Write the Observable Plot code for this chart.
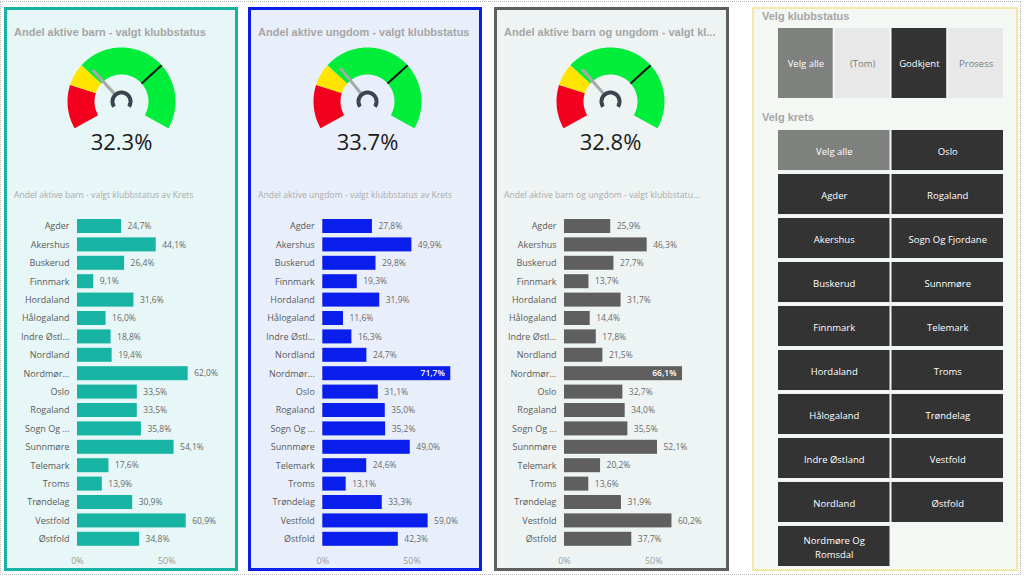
<!DOCTYPE html>
<html><head><meta charset="utf-8">
<script src="https://cdn.jsdelivr.net/npm/d3@7"></script>
<script src="https://cdn.jsdelivr.net/npm/@observablehq/plot@0.6"></script>
<style>
body{margin:0;background:#fff;font-family:"Open Sans",sans-serif;}
#root{position:relative;width:1024px;height:578px;overflow:hidden;background:#fff;}
.abs{position:absolute;}
.abs svg{display:block;}
.panel{position:absolute;box-sizing:border-box;}
.title{position:absolute;font-family:"Liberation Sans",Arial,sans-serif;font-weight:bold;font-size:11px;line-height:13px;color:#A6A6A6;white-space:nowrap;}
.sub{position:absolute;font-family:"Open Sans",sans-serif;font-size:8.6px;line-height:12px;color:#ABABAB;white-space:nowrap;}
</style></head><body><div id="root"></div>
<script>
// ---------- data ----------
const krets = ["Agder","Akershus","Buskerud","Finnmark","Hordaland","Hålogaland","Indre Østland","Nordland","Nordmøre Og Romsdal","Oslo","Rogaland","Sogn Og Fjordane","Sunnmøre","Telemark","Troms","Trøndelag","Vestfold","Østfold"];
const kretsTickLabels = ["Agder","Akershus","Buskerud","Finnmark","Hordaland","Hålogaland","Indre Østl...","Nordland","Nordmør...","Oslo","Rogaland","Sogn Og ...","Sunnmøre","Telemark","Troms","Trøndelag","Vestfold","Østfold"];
const andelBarn   = [24.7,44.1,26.4,9.1,31.6,16.0,18.8,19.4,62.0,33.5,33.5,35.8,54.1,17.6,13.9,30.9,60.9,34.8];
const andelUngdom = [27.8,49.9,29.8,19.3,31.9,11.6,16.3,24.7,71.7,31.1,35.0,35.2,49.0,24.6,13.1,33.3,59.0,42.3];
const andelBegge  = [25.9,46.3,27.7,13.7,31.7,14.4,17.8,21.5,66.1,32.7,34.0,35.5,52.1,20.2,13.6,31.9,60.2,37.7];
const xTicks = [0, 50];
const gaugeValues = [32.3, 33.7, 32.8];
const gaugeTarget = 70;
const gaugeBandStart = [0, 20, 30];
const gaugeBandEnd = [20, 30, 100];
const gaugeBandColor = ["#F2001E", "#FFE500", "#00EE3A"];
const titles = ["Andel aktive barn - valgt klubbstatus","Andel aktive ungdom - valgt klubbstatus","Andel aktive barn og ungdom - valgt kl..."];
const subtitles = ["Andel aktive barn - valgt klubbstatus av Krets","Andel aktive ungdom - valgt klubbstatus av Krets","Andel aktive barn og ungdom - valgt klubbstatu..."];
const klubbstatusOptions = ["Velg alle","(Tom)","Godkjent","Prosess"];
const klubbstatusState = ["all","off","on","off"];
const kretsSlicer = ["Velg alle","Oslo","Agder","Rogaland","Akershus","Sogn Og Fjordane","Buskerud","Sunnmøre","Finnmark","Telemark","Hordaland","Troms","Hålogaland","Trøndelag","Indre Østland","Vestfold","Nordland","Østfold","Nordmøre Og Romsdal"];
const kretsSlicerState = ["all"].concat(Array(18).fill("on"));

// ---------- layout / styles ----------
const root = document.getElementById("root");
function div(cls, css, text){const d=document.createElement("div");d.className=cls;Object.assign(d.style,css);if(text!=null)d.textContent=text;root.appendChild(d);return d;}
div("abs",{left:"0px",top:"1px",width:"1021px",height:"574px",border:"1px dotted #b8b8b8",boxSizing:"border-box"});

const panels = [
  {left:4,   width:234, border:"#17B3A3", bg:"#E7F6F6", bar:"#17B3A3", values:andelBarn,   cx:121,   ml:77,   svgLeft:0},
  {left:248, width:234, border:"#0A1EEB", bg:"#E9EFFA", bar:"#0A1EEB", values:andelUngdom, cx:367,   ml:77.3, svgLeft:245},
  {left:494, width:235, border:"#5E5E5E", bg:"#EEF4F4", bar:"#5F5F5F", values:andelBegge,  cx:609.5, ml:74,   svgLeft:490}
];
const pxPerPct = 1.785, xMax = 80, chartW = 240;
const fmt = v => v.toFixed(1).replace(".", ",") + "%";
const toXY = (pct, r) => { const a = (-120 + pct * 2.4) * Math.PI / 180; return [r * Math.sin(a), r * Math.cos(a)]; };

panels.forEach((p, i) => {
  div("panel",{left:p.left+"px",top:"7px",width:p.width+"px",height:"564px",border:"3px solid "+p.border,background:p.bg});
  div("title",{left:(p.left+10)+"px",top:"26px"}, titles[i]);
  div("sub",{left:(p.left+10)+"px",top:"189px"}, subtitles[i]);

  // gauge
  const arcPts = [];
  gaugeBandStart.forEach((s, b) => {
    for (let q = s; q <= gaugeBandEnd[b] + 1e-9; q += 0.5) { const [x, y] = toXY(q, 40.5); arcPts.push({band:b, x, y, color:gaugeBandColor[b]}); }
  });
  const capPts = d3.range(-125, 126, 5).map(a => ({x: 9 * Math.sin(a * Math.PI / 180), y: 9 * Math.cos(a * Math.PI / 180)}));
  const v = gaugeValues[i];
  const g = Plot.plot({
    width:120, height:115, margin:0,
    x:{domain:[-60,60], axis:null}, y:{domain:[-59,56], axis:null},
    color:{type:"identity"},
    style:{background:"transparent", fontFamily:"'Open Sans',sans-serif", overflow:"visible"},
    marks:[
      Plot.line(arcPts, {x:"x", y:"y", z:"band", stroke:"color", strokeWidth:27, strokeLinecap:"butt", strokeLinejoin:"round"}),
      Plot.link([gaugeTarget], {x1:d=>toXY(d,27)[0], y1:d=>toXY(d,27)[1], x2:d=>toXY(d,54)[0], y2:d=>toXY(d,54)[1], stroke:"#111", strokeWidth:2}),
      Plot.link([v], {x1:d=>toXY(d,11)[0], y1:d=>toXY(d,11)[1], x2:d=>toXY(d,43)[0], y2:d=>toXY(d,43)[1], stroke:"#A8A8A8", strokeWidth:3}),
      Plot.line(capPts, {x:"x", y:"y", stroke:"#3A444E", strokeWidth:4, strokeLinecap:"butt"}),
      Plot.text([v], {x:()=>0, y:()=>-41, text:d=>d.toFixed(1)+"%", fontSize:22, fill:"#1a1a1a"})
    ]
  });
  div("abs",{left:(p.cx-60)+"px",top:"45px"}).appendChild(g);

  // bar chart
  const data = krets.map((k, j) => ({krets:k, v:p.values[j]}));
  const bars = Plot.plot({
    width:chartW, height:362, marginLeft:p.ml, marginRight:chartW - p.ml - xMax*pxPerPct, marginTop:6.8, marginBottom:24,
    x:{domain:[0,xMax]},
    y:{domain:krets, paddingInner:0.24, paddingOuter:0.12, round:false},
    style:{background:"transparent", fontFamily:"'Open Sans',sans-serif", fontSize:"9px"},
    marks:[
      Plot.axisX({ticks:xTicks, tickFormat:d=>d+"%", tickSize:0, tickPadding:9, fill:"#9A9A9A", fontSize:9, label:null}),
      Plot.axisY({tickSize:0, tickPadding:8, tickFormat:d=>kretsTickLabels[krets.indexOf(d)], fill:"#5A5A5A", fontSize:9, label:null}),
      Plot.barX(data, {x:"v", y:"krets", fill:p.bar}),
      Plot.text(data.filter(d=>d.v<65), {x:"v", y:"krets", text:d=>fmt(d.v), dx:6, textAnchor:"start", fill:"#6A6A6A", fontSize:8.5}),
      Plot.text(data.filter(d=>d.v>=65), {x:"v", y:"krets", text:d=>fmt(d.v), dx:-6, textAnchor:"end", fill:"#ffffff", fontSize:8.5, fontWeight:600})
    ]
  });
  div("abs",{left:p.svgLeft+"px",top:"210px"}).appendChild(bars);
});

// slicer panel
div("panel",{left:"752px",top:"7px",width:"266px",height:"564px",border:"2.5px solid #F4E9A6",background:"#F4F8F4"});
div("title",{left:"762px",top:"10px"},"Velg klubbstatus");
div("title",{left:"762px",top:"111px"},"Velg krets");
const stateFill = {all:"#7F817F", on:"#333333", off:"#E8E8E8"};
const stateText = {all:"#ffffff", on:"#ffffff", off:"#7A7A7A"};

const ks = Plot.plot({
  width:230, height:75, marginLeft:2, marginRight:3, marginTop:2, marginBottom:3,
  x:{domain:klubbstatusOptions, paddingInner:0.036, paddingOuter:0, round:false, axis:null},
  color:{type:"identity"},
  style:{background:"transparent", fontFamily:"'Open Sans',sans-serif"},
  marks:[
    Plot.cell(klubbstatusOptions, {x:d=>d, fill:(d,j)=>stateFill[klubbstatusState[j]]}),
    Plot.text(klubbstatusOptions, {x:d=>d, text:d=>d, fill:(d,j)=>stateText[klubbstatusState[j]], fontSize:9.5})
  ]
});
div("abs",{left:"776px",top:"26px"}).appendChild(ks);

const kData = kretsSlicer.map((k, j) => ({k, col:j % 2, row:Math.floor(j / 2), state:kretsSlicerState[j]}));
const kp = Plot.plot({
  width:230, height:440, marginLeft:2, marginRight:3, marginTop:2, marginBottom:2,
  x:{domain:[0,1], type:"band", paddingInner:0.0176, paddingOuter:0, round:false, axis:null},
  y:{domain:d3.range(10), type:"band", paddingInner:0.09, paddingOuter:0, round:false, axis:null},
  color:{type:"identity"},
  style:{background:"transparent", fontFamily:"'Open Sans',sans-serif"},
  marks:[
    Plot.cell(kData, {x:"col", y:"row", fill:d=>stateFill[d.state]}),
    Plot.text(kData, {x:"col", y:"row", text:"k", fill:d=>stateText[d.state], fontSize:9.5, lineWidth:9, lineHeight:1.45})
  ]
});
div("abs",{left:"776px",top:"127.5px"}).appendChild(kp);
</script></body></html>
